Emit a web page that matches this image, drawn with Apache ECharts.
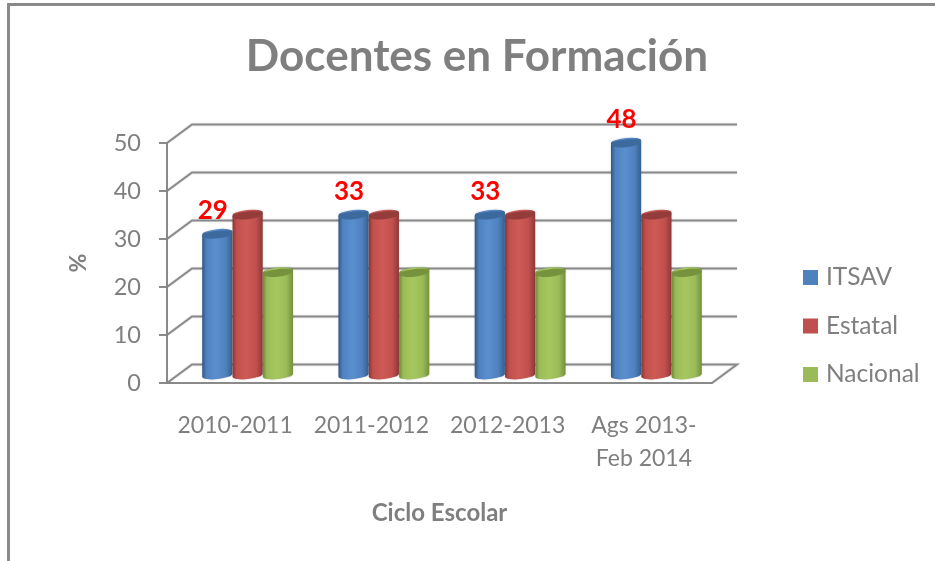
<!DOCTYPE html>
<html>
<head>
<meta charset="utf-8">
<script src="https://cdn.jsdelivr.net/npm/echarts@6/dist/echarts.min.js"></script>
<style>html,body{margin:0;padding:0;background:#fff}#c{width:935px;height:561px}</style>
</head>
<body>
<div id="c"></div>
<script>
const categories = ['2010-2011', '2011-2012', '2012-2013', 'Ags 2013-\nFeb 2014'];
const itsav = [29, 33, 33, 48];
const estatal = [33, 33, 33, 33];
const nacional = [21, 21, 21, 21];
const valueTicks = [0, 10, 20, 30, 40, 50];

const FONT = 'Lato, "Open Sans", sans-serif';
const GREY = '#7f7f7f';
const LINE = '#8a8a8a';
const DEPTH_X = 25, DEPTH_Y = 18.5;
const BAR_SHARE = 0.2225;

const palettes = {
  ITSAV:    {base: '#4f81bd', edgeL: '#2f5688', mid: '#5a8fcf', edgeR: '#34608f', top: '#3c6a9e'},
  Estatal:  {base: '#c0504d', edgeL: '#8a3432', mid: '#cf5a56', edgeR: '#8c3836', top: '#943c3a'},
  Nacional: {base: '#9bbb59', edgeL: '#6b8a35', mid: '#a6c75f', edgeR: '#72913b', top: '#76923c'}
};

function cylinder(name, slot, showLabel) {
  const p = palettes[name];
  return function (params, api) {
    const band = api.size([1, 0])[0];
    const w = band * BAR_SHARE;
    const rx = w / 2, ry = 3.8, rot = -6;
    const top = api.coord([api.value(0), api.value(1)]);
    const bottom = api.coord([api.value(0), 0]);
    const cx = top[0] + DEPTH_X / 2 + (slot - 1) * w;
    const yTop = top[1] - DEPTH_Y / 2;
    const yBot = bottom[1] - DEPTH_Y / 2;
    const tilt = rx * Math.sin(-rot * Math.PI / 180);
    const xL = cx - rx, xR = cx + rx;
    const body = 'M' + xL + ' ' + (yTop + tilt) +
      ' L' + xL + ' ' + (yBot + tilt) +
      ' A' + rx + ' ' + ry + ' ' + rot + ' 0 0 ' + xR + ' ' + (yBot - tilt) +
      ' L' + xR + ' ' + (yTop - tilt) +
      ' A' + rx + ' ' + ry + ' ' + rot + ' 0 0 ' + xL + ' ' + (yTop + tilt) + ' Z';
    const children = [
      {
        type: 'path',
        shape: {pathData: body, layout: 'cover', x: xL, y: yTop - ry - tilt, width: w, height: yBot - yTop + 2 * ry + 2 * tilt},
        style: {
          fill: {type: 'linear', x: 0, y: 0, x2: 1, y2: 0, colorStops: [
            {offset: 0, color: p.edgeL}, {offset: 0.14, color: p.base},
            {offset: 0.45, color: p.mid}, {offset: 0.78, color: p.base},
            {offset: 1, color: p.edgeR}]},
          shadowColor: 'rgba(0,0,0,0.2)', shadowBlur: 2
        }
      },
      {
        type: 'ellipse',
        shape: {cx: cx, cy: yTop, rx: rx, ry: ry},
        rotation: -rot * Math.PI / 180,
        originX: cx, originY: yTop,
        style: {fill: p.top}
      }
    ];
    if (showLabel) {
      children.push({
        type: 'text',
        style: {
          text: String(api.value(1)), x: cx - 4.5, y: yTop - 24,
          align: 'center', verticalAlign: 'middle',
          font: 'bold 26px ' + FONT, fill: '#ff0000'
        }
      });
    }
    return {type: 'group', children: children};
  };
}

function wallLine(params, api) {
  const cs = params.coordSys;
  const y = api.coord([0, api.value(0)])[1];
  const left = cs.x, right = cs.x + cs.width;
  const points = [[left, y], [left + DEPTH_X, y - DEPTH_Y], [right + DEPTH_X, y - DEPTH_Y]];
  if (api.value(0) === 0) points.push([right, y]);
  return {
    type: 'polyline',
    shape: {points: points},
    style: {stroke: LINE, lineWidth: 2, fill: 'none', shadowColor: 'rgba(0,0,0,0.18)', shadowBlur: 2}
  };
}

function barSeries(name, values, slot, showLabel) {
  return {
    name: name, type: 'custom', z: 5, silent: true,
    itemStyle: {color: palettes[name].base},
    renderItem: cylinder(name, slot, showLabel),
    encode: {x: 0, y: 1},
    data: values.map((v, i) => [i, v])
  };
}

const chart = echarts.init(document.getElementById('c'), null, {renderer: 'canvas'});
chart.setOption({
  animation: false,
  backgroundColor: '#fff',
  title: {
    text: 'Docentes en Formación', left: 472, top: 30, textAlign: 'center',
    textStyle: {fontFamily: FONT, fontWeight: 'bold', fontSize: 44, color: GREY}
  },
  legend: {
    orient: 'vertical', left: 803, top: 265, padding: 0, itemWidth: 15, itemHeight: 15, itemGap: 23.5,
    icon: 'rect', selectedMode: false,
    data: ['ITSAV', 'Estatal', 'Nacional'],
    textStyle: {fontFamily: FONT, fontSize: 24.5, color: GREY, padding: [0, 0, 0, 3]}
  },
  grid: {left: 167, right: 223, top: 143, bottom: 178},
  xAxis: {
    type: 'category', data: categories,
    name: 'Ciclo Escolar', nameLocation: 'middle', nameGap: 118,
    nameTextStyle: {fontFamily: FONT, fontWeight: 'bold', fontSize: 24, color: GREY},
    axisLine: {show: true, lineStyle: {color: LINE, width: 2}},
    axisTick: {show: false},
    axisLabel: {fontFamily: FONT, fontSize: 23, color: GREY, margin: 26, lineHeight: 33, interval: 0},
    splitLine: {show: false}
  },
  yAxis: {
    type: 'value', min: 0, max: 50, interval: 10,
    name: '%', nameLocation: 'middle', nameGap: 77, nameRotate: 90,
    nameTextStyle: {fontFamily: FONT, fontWeight: 'bold', fontSize: 23, color: GREY},
    axisLine: {show: true, lineStyle: {color: LINE, width: 2}},
    axisTick: {show: true, length: 8, lineStyle: {color: LINE, width: 2}},
    axisLabel: {fontFamily: FONT, fontSize: 23.5, color: GREY, margin: 26},
    splitLine: {show: false}
  },
  series: [
    {
      type: 'custom', z: 1, silent: true, name: 'walls',
      renderItem: wallLine,
      encode: {y: 0},
      data: valueTicks.map(v => [v])
    },
    barSeries('ITSAV', itsav, 0, true),
    barSeries('Estatal', estatal, 1, false),
    barSeries('Nacional', nacional, 2, false)
  ],
  graphic: [
    {type: 'rect', silent: true, shape: {x: 7, y: 3, width: 928, height: 3}, style: {fill: LINE}},
    {type: 'rect', silent: true, shape: {x: 7, y: 3, width: 3, height: 558}, style: {fill: LINE}}
  ]
});
</script>
</body>
</html>
